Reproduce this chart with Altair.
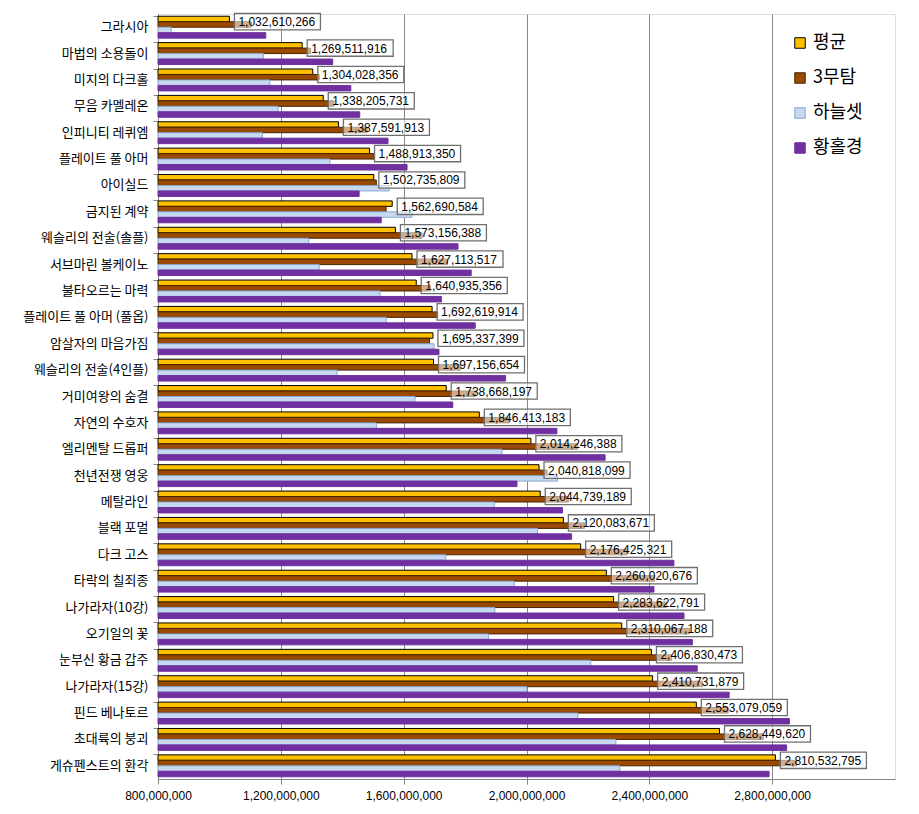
import altair as alt
import pandas as pd

categories = ["그라시아", "마법의 소용돌이", "미지의 다크홀", "무음 카멜레온", "인피니티 레퀴엠",
              "플레이트 풀 아머", "아이실드", "금지된 계약", "웨슬리의 전술(솔플)", "서브마린 볼케이노",
              "불타오르는 마력", "플레이트 풀 아머 (풀옵)", "암살자의 마음가짐", "웨슬리의 전술(4인플)",
              "거미여왕의 숨결", "자연의 수호자", "엘리멘탈 드롭퍼", "천년전쟁 영웅", "메탈라인",
              "블랙 포멀", "다크 고스", "타락의 칠죄종", "나가라자(10강)", "오기일의 꽃",
              "눈부신 황금 갑주", "나가라자(15강)", "핀드 베나토르", "초대륙의 붕괴", "게슈펜스트의 환각"]

avg = [1032610266, 1269511916, 1304028356, 1338205731, 1387591913, 1488913350, 1502735809,
       1562690584, 1573156388, 1627113517, 1640935356, 1692619914, 1695337399, 1697156654,
       1738668197, 1846413183, 2014246388, 2040818099, 2044739189, 2120083671, 2176425321,
       2260020676, 2283622791, 2310067188, 2406830473, 2410731879, 2553079059, 2628449620,
       2810532795]

# millions
mutam_m = [1104, 1297, 1325, 1373, 1481, 1504, 1511, 1543, 1660, 1743, 1687, 1711, 1684, 1784,
           1833, 1943, 2167, 2067, 2137, 2189, 2327, 2417, 2456, 2531, 2473, 2573, 2657, 2771, 2880]
haneul_m = [843, 1143, 1164, 1191, 1140, 1360, 1553, 1627, 1291, 1325, 1523, 1543, 1699, 1383,
            1637, 1511, 1920, 2101, 1895, 2036, 1737, 1960, 1897, 1876, 2209, 2001, 2167, 2291, 2304]
hwang_m = [1151, 1369, 1428, 1457, 1549, 1611, 1455, 1527, 1777, 1820, 1723, 1833, 1715, 1932,
           1760, 2099, 2256, 1969, 2117, 2147, 2480, 2415, 2513, 2540, 2556, 2660, 2856, 2847, 2790]

series = ["평균", "3무탐", "하늘셋", "황홀경"]
fills = ["#FFC000", "#9A4A00", "#C6D9F1", "#7030A0"]
strokes = ["#000000", "#4a2400", "#8AA8D0", "#7030A0"]
x_ticks = [800000000, 1200000000, 1600000000, 2000000000, 2400000000, 2800000000]

rows = []
for i, c in enumerate(categories):
    vals = [avg[i], mutam_m[i] * 1e6, haneul_m[i] * 1e6, hwang_m[i] * 1e6]
    for s, v in zip(series, vals):
        rows.append({"cat": c, "series": s, "value": v})
df = pd.DataFrame(rows)
lab = pd.DataFrame({"cat": categories, "value": avg})

xscale = alt.Scale(domain=[800000000, 3200000000], nice=False, zero=False)
yscale = alt.Scale(paddingInner=0.17, paddingOuter=0.085)

y_enc = alt.Y("cat:N", sort=categories, scale=yscale,
              axis=alt.Axis(title=None, bandPosition=0, labelFont="Noto Sans CJK KR",
                            labelFontSize=13, labelColor="#000000", labelPadding=5,
                            tickSize=5, tickColor="#868686", domainColor="#868686",
                            labelLimit=200))
x_enc = alt.X("value:Q", scale=xscale,
              axis=alt.Axis(title=None, values=x_ticks, format=",d", grid=True,
                            gridColor="#868686", gridWidth=1, domainColor="#868686",
                            tickColor="#868686", tickSize=5, labelFont="Liberation Sans",
                            labelFontSize=12, labelColor="#000000", labelPadding=6,
                            labelFlush=False))

legend = alt.Legend(title=None, orient="none", legendX=633, legendY=20,
                    labelFont="Noto Sans CJK KR", labelFontSize=18, labelColor="#000000",
                    symbolType="square", symbolSize=110, symbolStrokeWidth=1,
                    rowPadding=17, labelOffset=4, padding=0)

bars = alt.Chart(df).mark_bar(strokeWidth=1).encode(
    x=x_enc,
    x2=alt.datum(800000000),
    y=y_enc,
    yOffset=alt.YOffset("series:N", sort=series, scale=alt.Scale(paddingInner=0, paddingOuter=0)),
    color=alt.Color("series:N", sort=series, scale=alt.Scale(domain=series, range=fills), legend=legend),
    stroke=alt.Stroke("series:N", sort=series, scale=alt.Scale(domain=series, range=strokes), legend=legend),
)

boxes = alt.Chart(lab).mark_point(
    shape="M0,-0.19 L2,-0.19 L2,0.19 L0,0.19 Z", size=7396, filled=True,
    fill="#ffffff", fillOpacity=0.55, stroke="#6f6f6f", strokeWidth=1.3, strokeOpacity=1,
    xOffset=5, yOffset=-5.5, opacity=1
).encode(x=alt.X("value:Q", scale=xscale), y=alt.Y("cat:N", sort=categories, scale=yscale))

texts = alt.Chart(lab).mark_text(
    align="left", baseline="middle", dx=9, dy=-5, font="Liberation Sans", fontSize=12, color="#000000"
).encode(x=alt.X("value:Q", scale=xscale), y=alt.Y("cat:N", sort=categories, scale=yscale),
         text=alt.Text("value:Q", format=",d"))

chart = alt.layer(bars, boxes, texts).properties(
    width=737, height=765,
    autosize=alt.AutoSizeParams(type="none"),
    padding={"left": 150, "top": 6, "right": 10, "bottom": 27},
).configure_view(stroke=None).configure(background="#ffffff")

chart.save("out.html", embed_options={"renderer": "svg", "actions": False})
